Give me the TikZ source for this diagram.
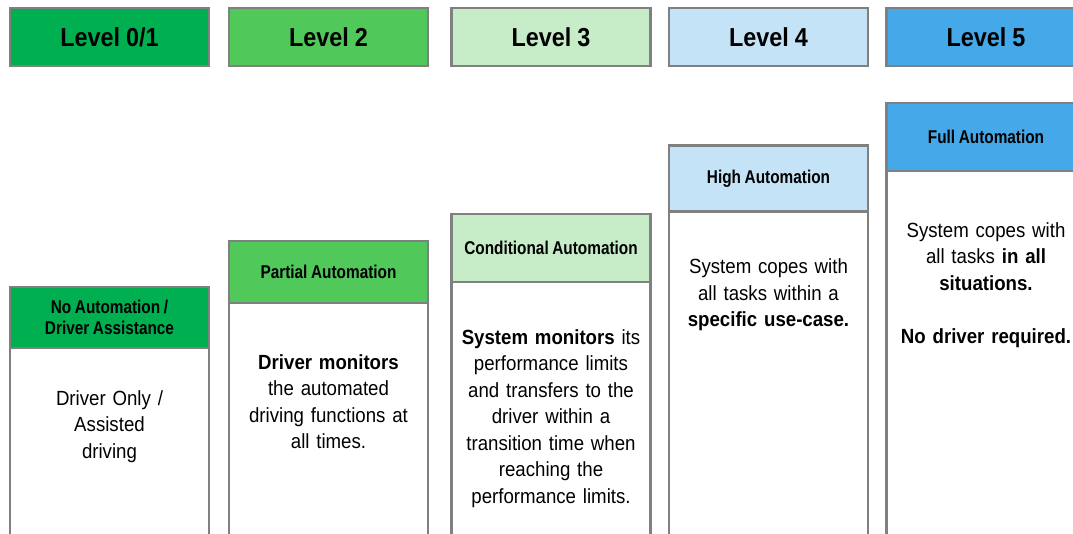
\documentclass[tikz,border=0pt]{standalone}
\usepackage{fontspec}
\setmainfont{Liberation Sans}
\newfontfamily\narrowfont[FakeStretch=0.9, WordSpace=0.9]{Liberation Sans}
\newfontfamily\titlefont[FakeStretch=0.83, WordSpace=0.85]{Liberation Sans}
\newfontfamily\bodyfont[FakeStretch=0.91, WordSpace=0.88]{Liberation Sans}
\usepackage{tikz}
\usetikzlibrary{positioning}
\definecolor{boxgray}{RGB}{128,128,128}
\definecolor{lvlzero}{RGB}{0,176,80}
\definecolor{lvltwo}{RGB}{80,200,90}
\definecolor{lvlthree}{RGB}{198,236,200}
\definecolor{lvlfour}{RGB}{197,227,247}
\definecolor{lvlfive}{RGB}{69,168,232}
\tikzstyle{levelbox} = [draw=boxgray, line width=2.5pt, minimum width=199pt, minimum height=58pt, outer sep=0pt, inner sep=0pt, font=\narrowfont\bfseries\fontsize{26}{30}\selectfont]
\tikzstyle{titlebox} = [draw=boxgray, line width=2.5pt, minimum width=199pt, outer sep=0pt, inner sep=0pt, align=center, font=\titlefont\bfseries\fontsize{18.5}{21}\selectfont]
\tikzstyle{bodybox} = [draw=boxgray, line width=2.5pt, fill=white, minimum width=199pt, minimum height=460pt, outer sep=0pt, anchor=north]
\tikzstyle{bodytext} = [text width=192pt, align=center, inner sep=0pt, font=\bodyfont\fontsize{20.5}{26.5}\selectfont]

\begin{document}
\begin{tikzpicture}[x=1pt, y=-1pt]
\clip (0,0) rectangle (1073,533);
\fill[white] (0,0) rectangle (1073,533);

% Level 0/1
\begin{scope}[shift={(109.5,0)}]
\node[levelbox, fill=lvlzero] at (0, 37) (level0) {Level 0/1};
\node[titlebox, fill=lvlzero, minimum height=61pt] at (0, 317.5) (title0) {No Automation /\\Driver Assistance};
\node[bodybox] at (title0.south) (body0) {};
\node[bodytext, below=42pt of title0] (text0) {Driver Only /\\Assisted\\driving};
\end{scope}

% Level 2
\begin{scope}[shift={(328.5,0)}]
\node[levelbox, fill=lvltwo] at (0, 37) (level2) {Level 2};
\node[titlebox, fill=lvltwo, minimum height=62pt] at (0, 272) (title2) {Partial Automation};
\node[bodybox] at (title2.south) (body2) {};
\node[bodytext, below=51pt of title2] (text2) {\textbf{Driver monitors}\\the automated\\driving functions at\\all times.};
\end{scope}

% Level 3
\begin{scope}[shift={(551,0)}]
\node[levelbox, fill=lvlthree] at (0, 37) (level3) {Level 3};
\node[titlebox, fill=lvlthree, minimum height=68pt] at (0, 248) (title3) {Conditional Automation};
\node[bodybox] at (title3.south) (body3) {};
\node[bodytext, below=47pt of title3] (text3) {\textbf{System monitors} its\\performance limits\\and transfers to the\\driver within a\\transition time when\\reaching the\\performance limits.};
\end{scope}

% Level 4
\begin{scope}[shift={(768.5,0)}]
\node[levelbox, fill=lvlfour] at (0, 37) (level4) {Level 4};
\node[titlebox, fill=lvlfour, minimum height=66pt] at (0, 178.5) (title4) {High Automation};
\node[bodybox] at (title4.south) (body4) {};
\node[bodytext, below=47pt of title4] (text4) {System copes with\\all tasks within a\\\textbf{specific use-case.}};
\end{scope}

% Level 5
\begin{scope}[shift={(986,0)}]
\node[levelbox, fill=lvlfive] at (0, 37) (level5) {Level 5};
\node[titlebox, fill=lvlfive, minimum height=68pt] at (0, 137) (title5) {Full Automation};
\node[bodybox] at (title5.south) (body5) {};
\node[bodytext, below=51pt of title5] (text5) {System copes with\\all tasks \textbf{in all}\\\textbf{situations.}\\[26.5pt]\textbf{No driver required.}};
\end{scope}
\end{tikzpicture}
\end{document}
